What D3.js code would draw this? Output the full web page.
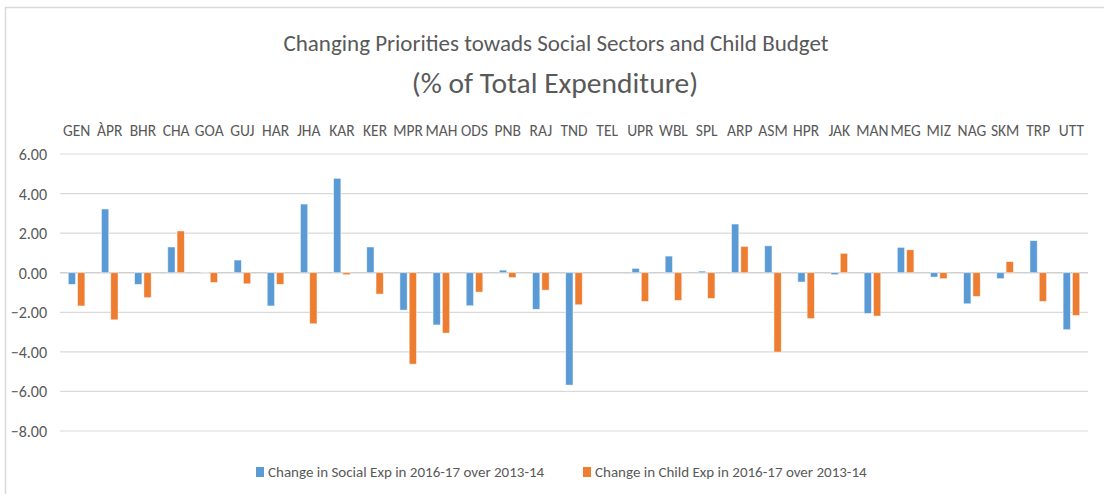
<!DOCTYPE html>
<html>
<head>
<meta charset="utf-8">
<script src="https://cdn.jsdelivr.net/npm/d3@7"></script>
<style>
  body { margin: 0; background: #fff; }
  svg text { font-family: Carlito, "Liberation Sans Narrow", "Open Sans", sans-serif; fill: #595959; }
</style>
</head>
<body>
<svg id="chart" width="1104" height="494"></svg>
<script>
const categories = ["GEN","ÀPR","BHR","CHA","GOA","GUJ","HAR","JHA","KAR","KER","MPR","MAH","ODS","PNB","RAJ","TND","TEL","UPR","WBL","SPL","ARP","ASM","HPR","JAK","MAN","MEG","MIZ","NAG","SKM","TRP","UTT"];
const socialExp = [-0.59,3.22,-0.59,1.30,0.01,0.64,-1.68,3.47,4.77,1.30,-1.89,-2.64,-1.67,0.13,-1.85,-5.68,0,0.22,0.84,0.08,2.46,1.36,-0.47,-0.10,-2.06,1.28,-0.22,-1.57,-0.30,1.62,-2.88];
const childExp  = [-1.68,-2.38,-1.26,2.11,-0.49,-0.56,-0.59,-2.58,-0.10,-1.08,-4.62,-3.05,-0.98,-0.25,-0.88,-1.62,0,-1.45,-1.40,-1.30,1.33,-4.01,-2.32,0.98,-2.19,1.16,-0.30,-1.20,0.56,-1.45,-2.16];
const yTicks = [6,4,2,0,-2,-4,-6,-8];
const seriesNames = ["Change in Social Exp in 2016-17 over 2013-14","Change in Child Exp in 2016-17 over 2013-14"];
const colors = ["#5B9BD5","#ED7D31"];
const titleLine1 = "Changing Priorities towads Social Sectors and Child Budget";
const titleLine2 = "(% of Total Expenditure)";

const svg = d3.select("#chart");
const plotL = 60, plotR = 1088, plotT = 154, plotB = 431;

// chart frame
svg.append("path").attr("d", `M5.5,494 L5.5,7.5 L1104,7.5`).attr("fill","none").attr("stroke","#D9D9D9").attr("stroke-width",1.5);

const x = d3.scaleBand().domain(categories).range([plotL, plotR]);
const y = d3.scaleLinear().domain([-8, 6]).range([plotB, plotT]);
const xs = d3.scaleBand().domain([0,1]).range([0, x.bandwidth()]).paddingInner(0.215).paddingOuter(0.89);

// gridlines
svg.append("g").selectAll("line").data(yTicks).join("line")
  .attr("x1", plotL).attr("x2", plotR)
  .attr("y1", d => y(d)).attr("y2", d => y(d))
  .attr("stroke", d => d === 0 ? "#D0D0D0" : "#D9D9D9").attr("stroke-width", d => d === 0 ? 1.5 : 1.2);

// y axis
const yAxis = d3.axisLeft(y).tickValues(yTicks).tickFormat(d3.format(".2f")).tickSize(0).tickPadding(0);
const gy = svg.append("g").attr("transform", `translate(47,0)`).call(yAxis);
gy.select(".domain").remove();
gy.selectAll("text").attr("font-size", 16).style("fill","#595959").attr("font-family", null).attr("dy", "0.34em");

// x axis on top
const xAxis = d3.axisTop(x).tickSize(0).tickPadding(0);
const gx = svg.append("g").attr("transform", `translate(0,136)`).call(xAxis);
gx.select(".domain").remove();
gx.selectAll("text").attr("transform", "scale(0.95,1.05)").attr("font-size", 15.5).style("fill","#595959").attr("font-family", null);
gx.selectAll(".tick text").attr("transform", null).attr("font-size", 15.5);

// bars
const series = [socialExp, childExp];
series.forEach((vals, si) => {
  svg.append("g").selectAll("rect").data(vals).join("rect")
    .attr("x", (d, i) => x(categories[i]) + xs(si))
    .attr("width", xs.bandwidth())
    .attr("y", d => Math.min(y(d), y(0)))
    .attr("height", d => Math.abs(y(d) - y(0)))
    .attr("fill", colors[si])
    .attr("stroke", "#ffffff").attr("stroke-opacity", 0.6).attr("stroke-width", 0.8);
});

// title
svg.append("text").attr("x", 556).attr("y", 51).attr("text-anchor","middle").attr("font-size", 23).text(titleLine1);
svg.append("text").attr("x", 555).attr("y", 93).attr("text-anchor","middle").attr("font-size", 29.5).text(titleLine2);

// legend
const legendX = [256, 583];
seriesNames.forEach((n, i) => {
  svg.append("rect").attr("x", legendX[i]).attr("y", 467).attr("width", 8).attr("height", 10).attr("fill", colors[i]);
  svg.append("text").attr("x", legendX[i] + 12).attr("y", 477).attr("font-size", 15).text(n);
});
</script>
</body>
</html>
